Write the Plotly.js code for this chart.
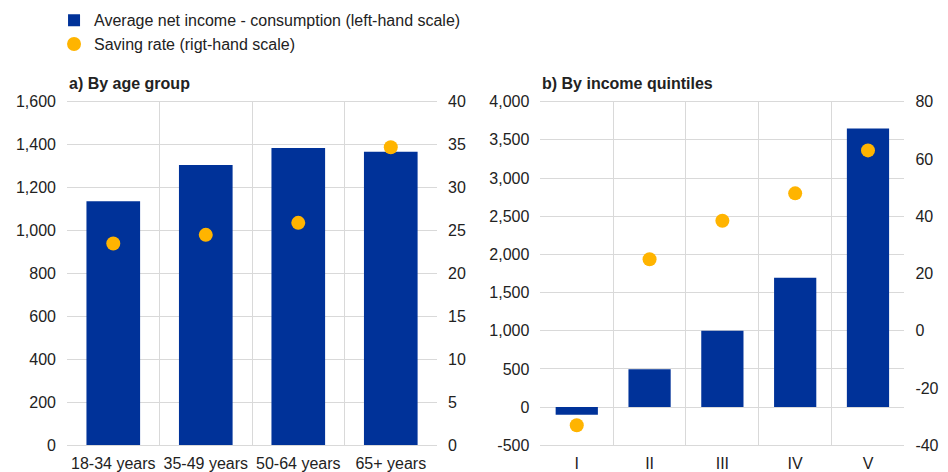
<!DOCTYPE html>
<html>
<head>
<meta charset="utf-8">
<script src="https://cdn.plot.ly/plotly-3.0.1.min.js"></script>
<style>
  html, body { margin: 0; padding: 0; background: #fff; }
  #plot { width: 948px; height: 472px; }
</style>
</head>
<body>
<div id="plot"></div>
<script>
// a) by age group
const ageGroups = ['18-34 years', '35-49 years', '50-64 years', '65+ years'];
const ageIncomeGap = [1136, 1305, 1384, 1367];   // EUR, left-hand scale
const ageSavingRate = [23.5, 24.5, 25.9, 34.7];  // %, right-hand scale

// b) by income quintiles
const quintiles = ['I', 'II', 'III', 'IV', 'V'];
const quintIncomeGap = [-100, 495, 1000, 1695, 3650];
const quintSavingRate = [-33, 25, 38.4, 48, 63];

// tick labels (hyphen minus as in the original)
const quintLeftTicks = [-500, 0, 500, 1000, 1500, 2000, 2500, 3000, 3500, 4000];
const quintLeftLabels = ['-500', '0', '500', '1,000', '1,500', '2,000', '2,500', '3,000', '3,500', '4,000'];
const quintRightTicks = [-40, -20, 0, 20, 40, 60, 80];
const quintRightLabels = ['-40', '-20', '0', '20', '40', '60', '80'];

const blue = '#003299';
const yellow = '#FFB400';
const grid = '#d9d9d9';
const txt = '#222222';
const font = 'Liberation Sans, Arial, sans-serif';
const fs = 16;

const traces = [
  { type: 'bar', x: ageGroups, y: ageIncomeGap, xaxis: 'x', yaxis: 'y',
    name: 'Average net income - consumption (left-hand scale)',
    marker: { color: blue }, legendrank: 1 },
  { type: 'scatter', mode: 'markers', x: ageGroups, y: ageSavingRate, xaxis: 'x', yaxis: 'y2',
    name: 'Saving rate (rigt-hand scale)',
    marker: { color: yellow, size: 14 }, legendrank: 2 },
  { type: 'bar', x: quintiles, y: quintIncomeGap, xaxis: 'x2', yaxis: 'y3',
    marker: { color: blue }, showlegend: false },
  { type: 'scatter', mode: 'markers', x: quintiles, y: quintSavingRate, xaxis: 'x2', yaxis: 'y4',
    marker: { color: yellow, size: 14 }, showlegend: false }
];

const xBase = {
  type: 'category', tickson: 'boundaries', showgrid: true, gridcolor: grid, gridwidth: 1,
  showline: true, linecolor: grid, mirror: true, ticks: '', ticklabelstandoff: 4,
  tickfont: { size: fs, color: txt }, fixedrange: true
};
const yBase = {
  showgrid: true, gridcolor: grid, zeroline: true, zerolinecolor: grid, zerolinewidth: 1,
  ticks: '', tickformat: ',', ticklabelstandoff: 10,
  tickfont: { size: fs, color: txt }, fixedrange: true
};

const layout = {
  width: 948, height: 472,
  margin: { l: 0, r: 0, t: 0, b: 0 },
  paper_bgcolor: '#fff', plot_bgcolor: '#fff',
  font: { family: font, size: fs, color: txt },
  bargap: 0.42,
  showlegend: true,
  legend: { x: 0.057, y: 0.993, xanchor: 'left', yanchor: 'top', orientation: 'v',
            font: { size: fs, color: txt }, bgcolor: 'rgba(0,0,0,0)', tracegroupgap: 0 },
  xaxis: Object.assign({}, xBase, { domain: [0.0707, 0.461], anchor: 'y' }),
  yaxis: Object.assign({}, yBase, { domain: [0.0566, 0.7845], range: [0, 1600], dtick: 200, anchor: 'x' }),
  yaxis2: Object.assign({}, yBase, { overlaying: 'y', side: 'right', anchor: 'x', range: [0, 40], dtick: 5, showgrid: false, zeroline: false }),
  xaxis2: Object.assign({}, xBase, { domain: [0.570, 0.954], anchor: 'y3' }),
  yaxis3: Object.assign({}, yBase, { domain: [0.0566, 0.7845], range: [-500, 4000], anchor: 'x2',
    tickmode: 'array', tickvals: quintLeftTicks, ticktext: quintLeftLabels }),
  yaxis4: Object.assign({}, yBase, { overlaying: 'y3', side: 'right', anchor: 'x2', range: [-40, 80],
    tickmode: 'array', tickvals: quintRightTicks, ticktext: quintRightLabels, showgrid: false, zeroline: false }),
  annotations: [
    { text: '<b>a) By age group</b>', xref: 'paper', yref: 'paper', x: 0.0707, y: 0.824,
      xanchor: 'left', yanchor: 'middle', showarrow: false, font: { size: fs, color: txt } },
    { text: '<b>b) By income quintiles</b>', xref: 'paper', yref: 'paper', x: 0.570, y: 0.824,
      xanchor: 'left', yanchor: 'middle', showarrow: false, font: { size: fs, color: txt } }
  ]
};

Plotly.newPlot('plot', traces, layout, { displayModeBar: false, staticPlot: true });
</script>
</body>
</html>
